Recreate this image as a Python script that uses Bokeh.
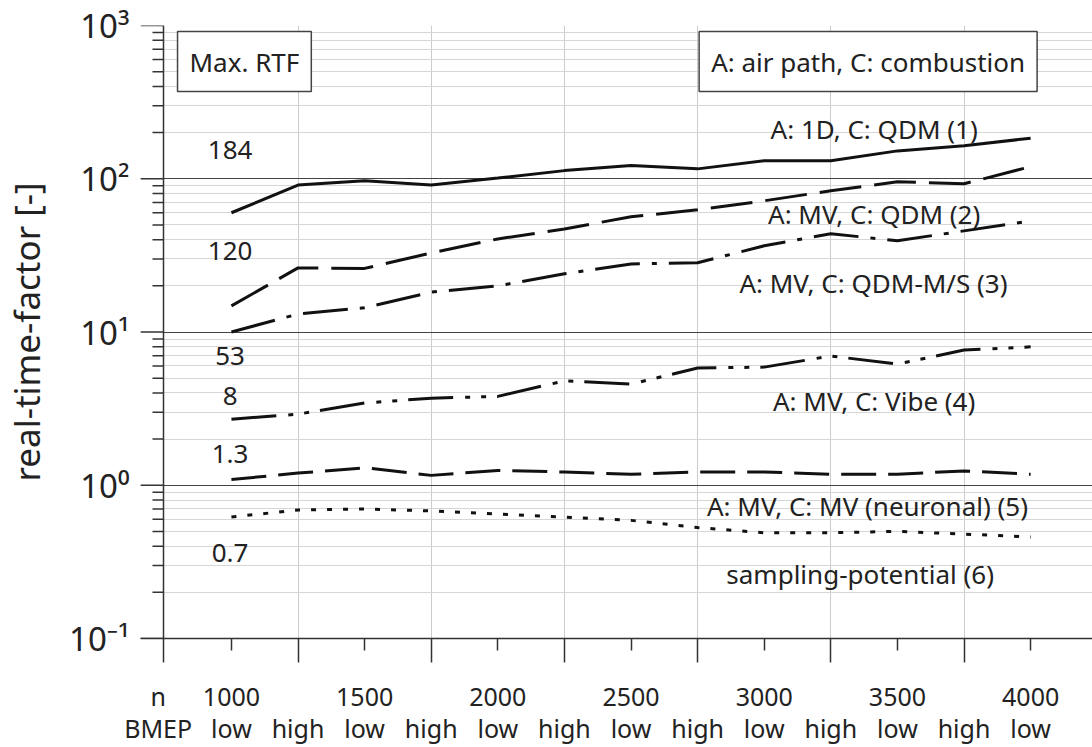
import numpy as np
from bokeh.plotting import figure
from bokeh.models import Range1d, FixedTicker, LinearAxis, Label, Span, BoxAnnotation
from bokeh.embed import file_html
from bokeh.resources import INLINE

# ---------------- data ----------------
n_labels = ["1000", "", "1500", "", "2000", "", "2500", "", "3000", "", "3500", "", "4000"]
bmep_labels = ["low", "high", "low", "high", "low", "high", "low", "high", "low", "high", "low", "high", "low"]
row_titles = ["n", "BMEP"]

s1_1d_qdm = [60, 91, 97, 91, 101, 113, 122, 116, 131, 131, 152, 164, 184]
s2_mv_qdm = [14.8, 26.2, 26.0, 32.8, 40.5, 47.0, 56.5, 62.7, 71.8, 83.5, 95.5, 92.7, 120]
s3_mv_qdm_ms = [10.0, 13.1, 14.4, 18.2, 20.0, 24.0, 27.8, 28.3, 36.5, 43.8, 39.4, 45.7, 53]
s4_mv_vibe = [2.70, 2.91, 3.44, 3.70, 3.80, 4.80, 4.57, 5.82, 5.90, 6.97, 6.18, 7.62, 8.0]
s5_mv_mv = [1.09, 1.20, 1.30, 1.16, 1.25, 1.22, 1.18, 1.22, 1.22, 1.18, 1.18, 1.24, 1.18]
s6_sampling = [0.62, 0.69, 0.70, 0.68, 0.65, 0.62, 0.59, 0.53, 0.49, 0.49, 0.50, 0.48, 0.46]

series_names = ["A: 1D, C: QDM (1)", "A: MV, C: QDM (2)", "A: MV, C: QDM-M/S (3)",
                "A: MV, C: Vibe (4)", "A: MV, C: MV (neuronal) (5)", "sampling-potential (6)"]
max_rtf = ["184", "120", "53", "8", "1.3", "0.7"]
y_decades = [0.1, 1, 10, 100, 1000]
y_tick_labels = ["10\u207b\u00b9", "10\u2070", "10\u00b9", "10\u00b2", "10\u00b3"]

# ---------------- layout / style ----------------
FONT = "Noto Sans"
TXT = "#222222"
AX = "#333333"
x = list(range(len(bmep_labels)))
all_series = [s1_1d_qdm, s2_mv_qdm, s3_mv_qdm_ms, s4_mv_vibe, s5_mv_mv, s6_sampling]
dashes = ["solid", "42 13", "45 12 5 12", "45 12 5 11 5 11", "35 12", "5 11"]
y_minor = [k * 10.0 ** e for e in range(-1, 3) for k in range(2, 10)]

PX = 66.6                      # pixels per category step
AXIS_X = -1.02                 # position of the drawn y axis line
X0 = AXIS_X - 23 / PX          # frame starts where the long y ticks start
X1 = X0 + 952 / PX

p = figure(width=1092, height=747, y_axis_type="log",
           x_range=Range1d(X0, X1), y_range=Range1d(0.1, 1000),
           output_backend="svg", toolbar_location=None,
           min_border_left=140, min_border_right=0, min_border_top=25, min_border_bottom=109)
p.outline_line_color = None
p.background_fill_color = "white"

# main x axis (ticks only)
major_x = [AXIS_X, 1, 3, 5, 7, 9, 11]
xa = p.xaxis[0]
xa.ticker = FixedTicker(ticks=major_x, minor_ticks=list(range(0, 13, 2)))
xa.major_label_overrides = {t: "" for t in major_x}
xa.major_label_text_font_size = "1px"
xa.major_label_standoff = 0
xa.major_tick_out = 24
xa.major_tick_in = 0
xa.minor_tick_out = 12
xa.minor_tick_in = 0
xa.axis_line_color = AX
xa.axis_line_width = 1.5
xa.major_tick_line_color = AX
xa.major_tick_line_width = 1.5
xa.minor_tick_line_color = AX
xa.minor_tick_line_width = 1.5

# y axis: labels only (tick marks drawn inside the frame so the axis line sits at AXIS_X)
ya = p.yaxis[0]
ya.ticker = FixedTicker(ticks=y_decades, minor_ticks=y_minor)
ya.major_label_overrides = dict(zip(y_decades, y_tick_labels))
ya.major_label_text_font = FONT
ya.major_label_text_font_size = "33px"
ya.major_label_text_color = TXT
ya.major_label_standoff = 11
ya.major_tick_out = 0
ya.major_tick_in = 0
ya.minor_tick_out = 0
ya.minor_tick_in = 0
ya.axis_line_color = None
ya.major_tick_line_color = None
ya.minor_tick_line_color = None
ya.axis_label = "real-time-factor [-]"
ya.axis_label_text_font = FONT
ya.axis_label_text_font_size = "35px"
ya.axis_label_text_font_style = "normal"
ya.axis_label_text_color = TXT
ya.axis_label_standoff = 16

# grids
p.xgrid.grid_line_color = "#cccccc"
p.xgrid.grid_line_width = 1
p.ygrid.grid_line_color = "#444444"
p.ygrid.grid_line_width = 1
p.ygrid.minor_grid_line_color = "#d6d6d6"
p.ygrid.minor_grid_line_width = 1

# blank strip left of the drawn y axis, then tick marks, then the axis line
p.add_layout(BoxAnnotation(right=AXIS_X, fill_color="white", fill_alpha=1.0,
                           line_color=None, level="underlay"))
p.segment(x0=X0, x1=AXIS_X, y0=y_decades, y1=y_decades, line_color=AX, line_width=1.5)
p.segment(x0=AXIS_X - 11 / PX, x1=AXIS_X, y0=y_minor, y1=y_minor, line_color=AX, line_width=1.5)
p.add_layout(Span(location=AXIS_X, dimension="height", line_color=AX, line_width=1.5))

# tick label rows (n and BMEP)
ROW_TITLE_POS = -1.1
ax_n = LinearAxis(ticker=FixedTicker(ticks=[ROW_TITLE_POS] + [i for i in x if n_labels[i]]),
                  major_label_overrides={ROW_TITLE_POS: row_titles[0],
                                         **{i: n_labels[i] for i in x if n_labels[i]}},
                  axis_line_color=None, major_tick_line_color=None, minor_tick_line_color=None,
                  major_tick_out=0, major_tick_in=0, minor_tick_out=0, minor_tick_in=0,
                  major_label_standoff=16, major_label_text_font=FONT,
                  major_label_text_font_size="25px", major_label_text_color=TXT)
p.add_layout(ax_n, "below")
ax_b = LinearAxis(ticker=FixedTicker(ticks=[ROW_TITLE_POS] + x),
                  major_label_overrides={ROW_TITLE_POS: row_titles[1], **{i: bmep_labels[i] for i in x}},
                  axis_line_color=None, major_tick_line_color=None, minor_tick_line_color=None,
                  major_tick_out=0, major_tick_in=0, minor_tick_out=0, minor_tick_in=0,
                  major_label_standoff=-5, major_label_text_font=FONT,
                  major_label_text_font_size="25px", major_label_text_color=TXT)
p.add_layout(ax_b, "below")

# series lines
for s, d in zip(all_series, dashes):
    p.line(x, s, line_width=3, line_color="#111111", line_dash=d)

# series labels
name_pos = [(9.65, 212), (9.65, 59), (9.64, 20.9), (9.65, 3.54), (9.55, 0.729), (9.44, 0.262)]
for name, (lx, ly) in zip(series_names, name_pos):
    p.add_layout(Label(x=lx, y=ly, text=name, text_align="center", text_baseline="middle",
                       text_font=FONT, text_font_size="26px", text_color=TXT))

max_pos = [155, 33.8, 6.97, 3.82, 1.60, 0.36]
for t, ly in zip(max_rtf, max_pos):
    p.add_layout(Label(x=-0.02, y=ly, text=t, text_align="center", text_baseline="middle",
                       text_font=FONT, text_font_size="26px", text_color=TXT))

# boxed titles
p.add_layout(Label(x=0.195, y=582, text="Max. RTF", text_align="center", text_baseline="middle",
                   text_font=FONT, text_font_size="26px", text_color=TXT,
                   border_line_color="#444444", border_line_width=1.5,
                   background_fill_color="white", padding=12))
p.add_layout(Label(x=9.56, y=582, text="A: air path, C: combustion", text_align="center",
                   text_baseline="middle", text_font=FONT, text_font_size="26px", text_color=TXT,
                   border_line_color="#444444", border_line_width=1.5,
                   background_fill_color="white", padding=12))

open("out.html", "w").write(file_html(p, INLINE))
